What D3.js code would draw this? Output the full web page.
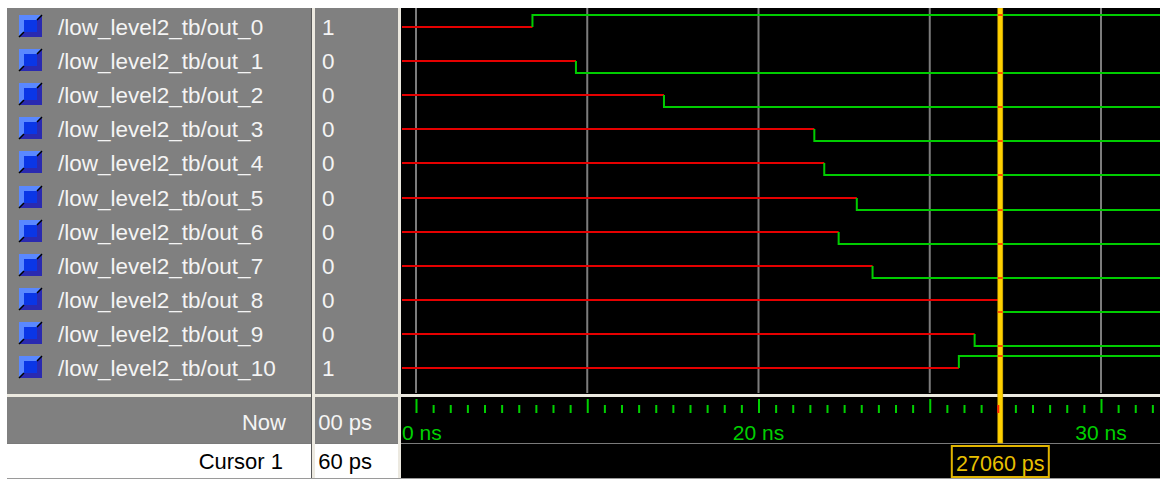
<!DOCTYPE html>
<html>
<head>
<meta charset="utf-8">
<script src="https://cdn.jsdelivr.net/npm/d3@7"></script>
<style>
    body { margin: 0; background: #fff; }
    svg { display: block; font-family: 'Liberation Sans', Arial, sans-serif; }
</style>
</head>
<body>
<svg class="wave" width="1160" height="482"></svg>
<script>
// signals shown in the wave window, their value at the cursor and the time (ns) they leave X
const signalNames = [
    '/low_level2_tb/out_0', '/low_level2_tb/out_1', '/low_level2_tb/out_2',
    '/low_level2_tb/out_3', '/low_level2_tb/out_4', '/low_level2_tb/out_5',
    '/low_level2_tb/out_6', '/low_level2_tb/out_7', '/low_level2_tb/out_8',
    '/low_level2_tb/out_9', '/low_level2_tb/out_10'
];
const signalValues = ['1', '0', '0', '0', '0', '0', '0', '0', '0', '0', '1'];
const settleNs = [13.40, 14.67, 17.24, 21.63, 21.92, 22.87, 22.34, 23.33, 27.06, 26.31, 25.85];

const rulerLabels = [10, 20, 30];
const cursorNs = 27.06;
const cursorText = '27060 ps';
// value column is scrolled, only the tail of each text shows
const bottomLabels = ['Now', 'Cursor 1'];
const bottomValues = ['00 ps', '60 ps'];

const W = 1160;
const H = 482;
const yTop = 8;
const waveLeft = 402;
const sigBottom = 394;
const nowBottom = 443;
const curBottom = 478;

const svg = d3.select('.wave');

const x = d3.scaleLinear().domain([10, 30]).range([416, 1101]);
const row = d3.scaleBand().domain(d3.range(signalNames.length)).range([10, 385]);
const mid = (i) => Math.round(row(i) + row.bandwidth() / 2);

const [t0, t1] = [x.invert(waveLeft), x.invert(W)];
const majorTicks = d3.range(Math.ceil(t0 / 5) * 5, t1, 5);
const minorTicks = d3.range(Math.ceil(t0 * 2) / 2, t1, 0.5).filter((d) => d % 5 !== 0);

const defs = svg.append('defs');
defs.append('clipPath').attr('id', 'clip-wave')
    .append('rect').attr('x', waveLeft).attr('y', yTop).attr('width', W - waveLeft).attr('height', curBottom - yTop);

// panels
svg.append('rect').attr('x', 0).attr('y', 0).attr('width', W).attr('height', H).attr('fill', '#fff');
svg.append('rect').attr('x', 7).attr('y', yTop).attr('width', 394).attr('height', nowBottom - yTop).attr('fill', '#808080');
svg.append('rect').attr('x', waveLeft - 1).attr('y', yTop).attr('width', W - waveLeft + 1).attr('height', curBottom - yTop).attr('fill', '#000');

const hline = (y, x1, x2, color, w) => svg.append('line')
    .attr('x1', x1).attr('x2', x2).attr('y1', y).attr('y2', y)
    .attr('stroke', color).attr('stroke-width', w);
const vline = (xx, y1, y2, color, w) => svg.append('line')
    .attr('x1', xx).attr('x2', xx).attr('y1', y1).attr('y2', y2)
    .attr('stroke', color).attr('stroke-width', w);

hline(395.5, 7, W, '#ece9e0', 3);
hline(443.5, 7, W, '#7a7a7a', 1);
hline(478.5, 7, W, '#9a9a9a', 1);

// grid
svg.append('g').selectAll('line').data(majorTicks).join('line')
    .attr('x1', (d) => x(d)).attr('x2', (d) => x(d))
    .attr('y1', yTop).attr('y2', sigBottom - 1)
    .attr('stroke', '#7c7c7c').attr('stroke-width', 2);

// names + icons
const rows = svg.append('g').selectAll('g').data(signalNames).join('g')
    .attr('transform', (d, i) => `translate(0,${mid(i)})`);

rows.append('rect').attr('x', 19).attr('y', -12).attr('width', 23).attr('height', 22).attr('fill', '#5a88ff');
rows.append('path').attr('d', 'M42,-12 V10 H19 L24,5 H37 V-7 Z').attr('fill', '#2a2ab0');
rows.append('rect').attr('x', 24).attr('y', -7).attr('width', 13).attr('height', 12).attr('fill', '#0a36e6');
rows.append('path').attr('d', 'M19,10 L24,5 M37,-7 L42,-12').attr('stroke', '#000').attr('stroke-width', 1.5);

rows.append('text').attr('x', 58).attr('y', 8)
    .attr('font-size', 22.5).attr('fill', '#f4f4f4').text((d) => d);
rows.append('text').attr('x', 322).attr('y', 8)
    .attr('font-size', 22.5).attr('fill', '#f4f4f4').text((d, i) => signalValues[i]);

// bottom rows
svg.append('rect').attr('x', 7).attr('y', 444).attr('width', 391).attr('height', 34).attr('fill', '#fff');
vline(313.5, yTop, curBottom, '#ece9e0', 3);
vline(311.5, yTop, curBottom, '#5a5a5a', 1);
vline(399.5, yTop, curBottom, '#ece9e0', 3);

const bottomY = [430, 469];
const bottomColor = ['#f4f4f4', '#000'];
svg.append('g').selectAll('text').data(bottomLabels).join('text')
    .attr('x', (d, i) => 286 - i * 3).attr('y', (d, i) => bottomY[i])
    .attr('text-anchor', 'end').attr('font-size', 22)
    .attr('fill', (d, i) => bottomColor[i]).text((d) => d);
svg.append('g').selectAll('text').data(bottomValues).join('text')
    .attr('x', 372).attr('y', (d, i) => bottomY[i])
    .attr('text-anchor', 'end').attr('font-size', 22)
    .attr('fill', (d, i) => bottomColor[i]).text((d) => d);

// waveforms
const wave = svg.append('g').attr('clip-path', 'url(#clip-wave)');
const level = (i, t) => {
    if (t < settleNs[i]) return mid(i);
    return signalValues[i] === '1' ? mid(i) - 12 : mid(i) + 12;
};

wave.append('g').selectAll('path').data(signalNames).join('path')
    .attr('d', (d, i) => `M${waveLeft},${mid(i)}H${x(settleNs[i])}`)
    .attr('fill', 'none').attr('stroke', '#e60000').attr('stroke-width', 2);

wave.append('g').selectAll('path').data(signalNames).join('path')
    .attr('d', (d, i) => `M${x(settleNs[i])},${mid(i)}V${level(i, 1e9)}H${W}`)
    .attr('fill', 'none').attr('stroke', '#00cc00').attr('stroke-width', 2);

// ruler
const ruler = wave.append('g').attr('transform', 'translate(0,413)');
ruler.append('g')
    .call(d3.axisTop(x).tickValues(minorTicks).tickSize(8).tickFormat(''))
    .call((g) => g.select('.domain').remove())
    .selectAll('line').attr('stroke', '#00d000').attr('stroke-width', 2);
ruler.append('g')
    .call(d3.axisTop(x).tickValues(majorTicks).tickSize(14).tickFormat(''))
    .call((g) => g.select('.domain').remove())
    .selectAll('line').attr('stroke', '#00d000').attr('stroke-width', 2);

wave.append('g').selectAll('text').data(rulerLabels).join('text')
    .attr('x', (d) => x(d)).attr('y', 440).attr('text-anchor', 'middle')
    .attr('font-size', 21).attr('fill', '#00d000').text((d) => `${d} ns`);

// cursor
const xc = x(cursorNs);
wave.append('rect').attr('x', xc - 2.5).attr('y', yTop).attr('width', 5).attr('height', nowBottom - yTop)
    .attr('fill', '#ffd000').attr('stroke', '#c9a200').attr('stroke-width', 0.6);

wave.append('g').selectAll('rect').data(signalNames).join('rect')
    .attr('x', xc - 2.5).attr('width', 5)
    .attr('y', (d, i) => level(i, cursorNs) - 1).attr('height', 2)
    .attr('fill', '#ff5000');

wave.append('g').selectAll('rect').data(minorTicks.filter((d) => Math.abs(x(d) - xc) < 3)).join('rect')
    .attr('x', (d) => x(d) - 1).attr('width', 2)
    .attr('y', 405).attr('height', 8)
    .attr('fill', '#ff2000');

wave.append('rect').attr('x', xc - 48.5).attr('y', 446).attr('width', 97).attr('height', 31)
    .attr('fill', 'none').attr('stroke', '#e0b400').attr('stroke-width', 2);
wave.append('text').attr('x', xc).attr('y', 471).attr('text-anchor', 'middle')
    .attr('font-size', 21.5).attr('fill', '#e8c000').text(cursorText);
</script>
</body>
</html>
